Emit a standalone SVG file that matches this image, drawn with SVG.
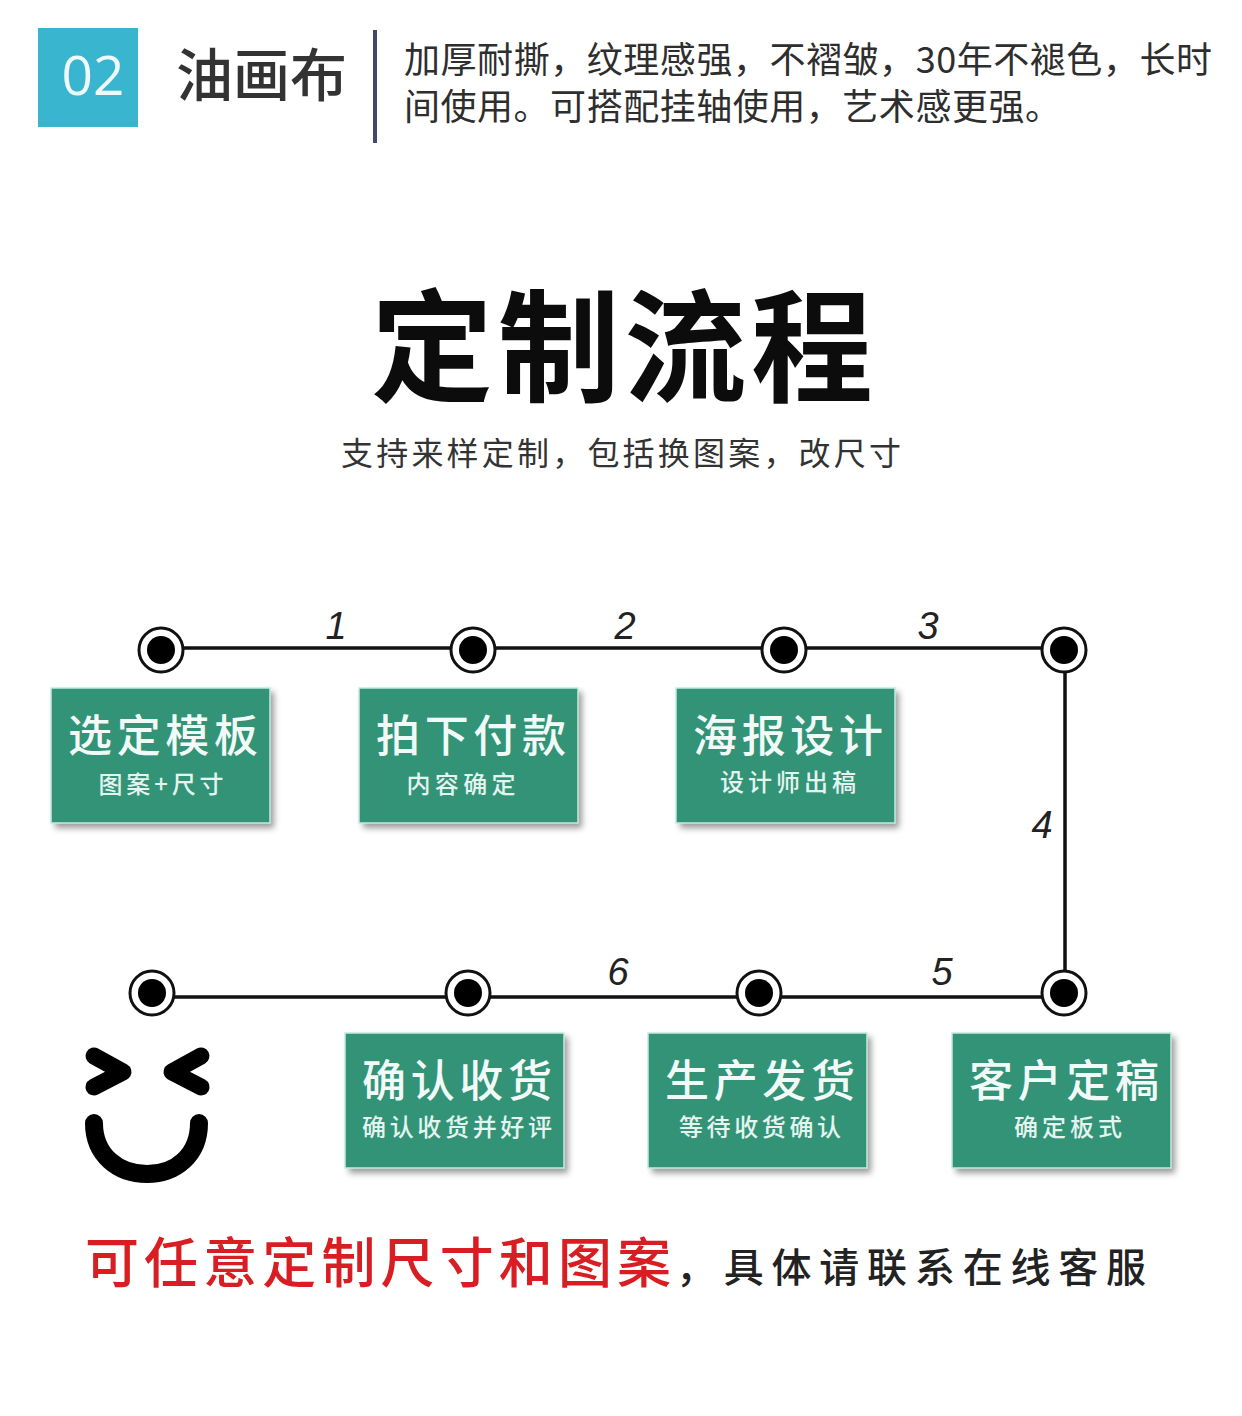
<svg xmlns="http://www.w3.org/2000/svg" width="1242" height="1416" viewBox="0 0 1242 1416">
<defs>
<filter id="sh" x="-10%" y="-10%" width="125%" height="130%"><feGaussianBlur stdDeviation="3"/></filter>
</defs>
<style>
text{font-family:"Noto Sans CJK SC","Liberation Sans",sans-serif}
.sh{fill:#555;opacity:.6;filter:url(#sh)}
.box{fill:#329377;stroke:#c5ebe0;stroke-width:1.5}
.t{fill:#f1faf7;font-size:44px;font-weight:500;text-anchor:middle}
.s{fill:#e4f4ef;font-size:24px;font-weight:500;text-anchor:middle}
.n{fill:#222;font-size:38px;font-style:italic;text-anchor:middle;font-family:"Liberation Sans",sans-serif}
.ln{stroke:#111;stroke-width:3.5;fill:none}
.o{fill:#fff;stroke:#111;stroke-width:3}
.i{fill:#000}
.d{fill:#2e2e2e;font-size:36px}
</style>
<rect width="1242" height="1416" fill="#fff"/>
<g id="header">
<rect x="38" y="28" width="100" height="99" fill="#39b5d0"/>
<text x="93" y="95" font-size="55" fill="#eef9fc" text-anchor="middle" style="font-family:'Open Sans','Liberation Sans',sans-serif">02</text>
<text x="176" y="96" font-size="57" fill="#333" font-weight="500">油画布</text>
<rect x="373" y="30" width="4" height="113" fill="#43486e"/>
<text class="d" x="404" y="73" textLength="808" lengthAdjust="spacing">加厚耐撕，纹理感强，不褶皱，30年不褪色，长时</text>
<text class="d" x="404" y="120" textLength="657" lengthAdjust="spacing">间使用。可搭配挂轴使用，艺术感更强。</text>
</g>
<g id="title">
<text x="622" y="392" font-size="122" font-weight="700" fill="#0c0c0c" text-anchor="middle" textLength="502" lengthAdjust="spacing">定制流程</text>
<text x="621" y="465" font-size="32" fill="#333" text-anchor="middle" textLength="560" lengthAdjust="spacing">支持来样定制，包括换图案，改尺寸</text>
</g>
<g id="connectors">
<path class="ln" d="M161 648H1065V997H152"/>
<text class="n" x="336" y="639">1</text>
<text class="n" x="625" y="639">2</text>
<text class="n" x="928" y="639">3</text>
<text class="n" x="1042" y="838">4</text>
<text class="n" x="942" y="985">5</text>
<text class="n" x="618" y="985">6</text>
</g>
<g id="dot-1"><circle class="o" cx="161" cy="650" r="22"/><circle class="i" cx="161" cy="650" r="14"/></g>
<g id="dot-2"><circle class="o" cx="473" cy="650" r="22"/><circle class="i" cx="473" cy="650" r="14"/></g>
<g id="dot-3"><circle class="o" cx="784" cy="650" r="22"/><circle class="i" cx="784" cy="650" r="14"/></g>
<g id="dot-4"><circle class="o" cx="1064" cy="650" r="22"/><circle class="i" cx="1064" cy="650" r="14"/></g>
<g id="dot-5"><circle class="o" cx="1064" cy="993" r="22"/><circle class="i" cx="1064" cy="993" r="14"/></g>
<g id="dot-6"><circle class="o" cx="759" cy="993" r="22"/><circle class="i" cx="759" cy="993" r="14"/></g>
<g id="dot-7"><circle class="o" cx="468" cy="993" r="22"/><circle class="i" cx="468" cy="993" r="14"/></g>
<g id="dot-8"><circle class="o" cx="152" cy="993" r="22"/><circle class="i" cx="152" cy="993" r="14"/></g>
<g id="step-1"><rect class="sh" x="55" y="692" width="219" height="136"/><rect class="box" x="51" y="688" width="219" height="135"/>
<text class="t" x="163" y="752" textLength="190">选定模板</text><text class="s" x="161" y="793" textLength="125">图案+尺寸</text></g>
<g id="step-2"><rect class="sh" x="363" y="692" width="219" height="136"/><rect class="box" x="359" y="688" width="219" height="135"/>
<text class="t" x="471" y="752" textLength="190">拍下付款</text><text class="s" x="461" y="793" textLength="109">内容确定</text></g>
<g id="step-3"><rect class="sh" x="680" y="692" width="219" height="136"/><rect class="box" x="676" y="688" width="219" height="135"/>
<text class="t" x="788" y="752" textLength="190">海报设计</text><text class="s" x="788" y="791" textLength="136">设计师出稿</text></g>
<g id="step-4"><rect class="sh" x="349" y="1037" width="219" height="136"/><rect class="box" x="345" y="1033" width="219" height="135"/>
<text class="t" x="457" y="1097" textLength="190">确认收货</text><text class="s" x="457" y="1136" textLength="190">确认收货并好评</text></g>
<g id="step-5"><rect class="sh" x="652" y="1037" width="219" height="136"/><rect class="box" x="648" y="1033" width="219" height="135"/>
<text class="t" x="760" y="1097" textLength="190">生产发货</text><text class="s" x="760" y="1136" textLength="162">等待收货确认</text></g>
<g id="step-6"><rect class="sh" x="956" y="1037" width="219" height="136"/><rect class="box" x="952" y="1033" width="219" height="135"/>
<text class="t" x="1064" y="1097" textLength="190">客户定稿</text><text class="s" x="1068" y="1136" textLength="108">确定板式</text></g>
<g id="smiley" fill="none" stroke="#000" stroke-width="17" stroke-linecap="round" stroke-linejoin="round">
<path d="M94 1056L123 1072L94 1087"/>
<path d="M201 1056L172 1072L201 1087"/>
<path d="M94 1123C94 1155 118 1174 147 1174C176 1174 199 1155 199 1123" stroke-width="18"/>
</g>
<g id="footer">
<text x="85" y="1283" font-size="54" font-weight="500" fill="#d81e22" textLength="586" lengthAdjust="spacing">可任意定制尺寸和图案</text>
<text x="676" y="1282" font-size="40" font-weight="500" fill="#222" textLength="470" lengthAdjust="spacing">，具体请联系在线客服</text>
</g>
</svg>
